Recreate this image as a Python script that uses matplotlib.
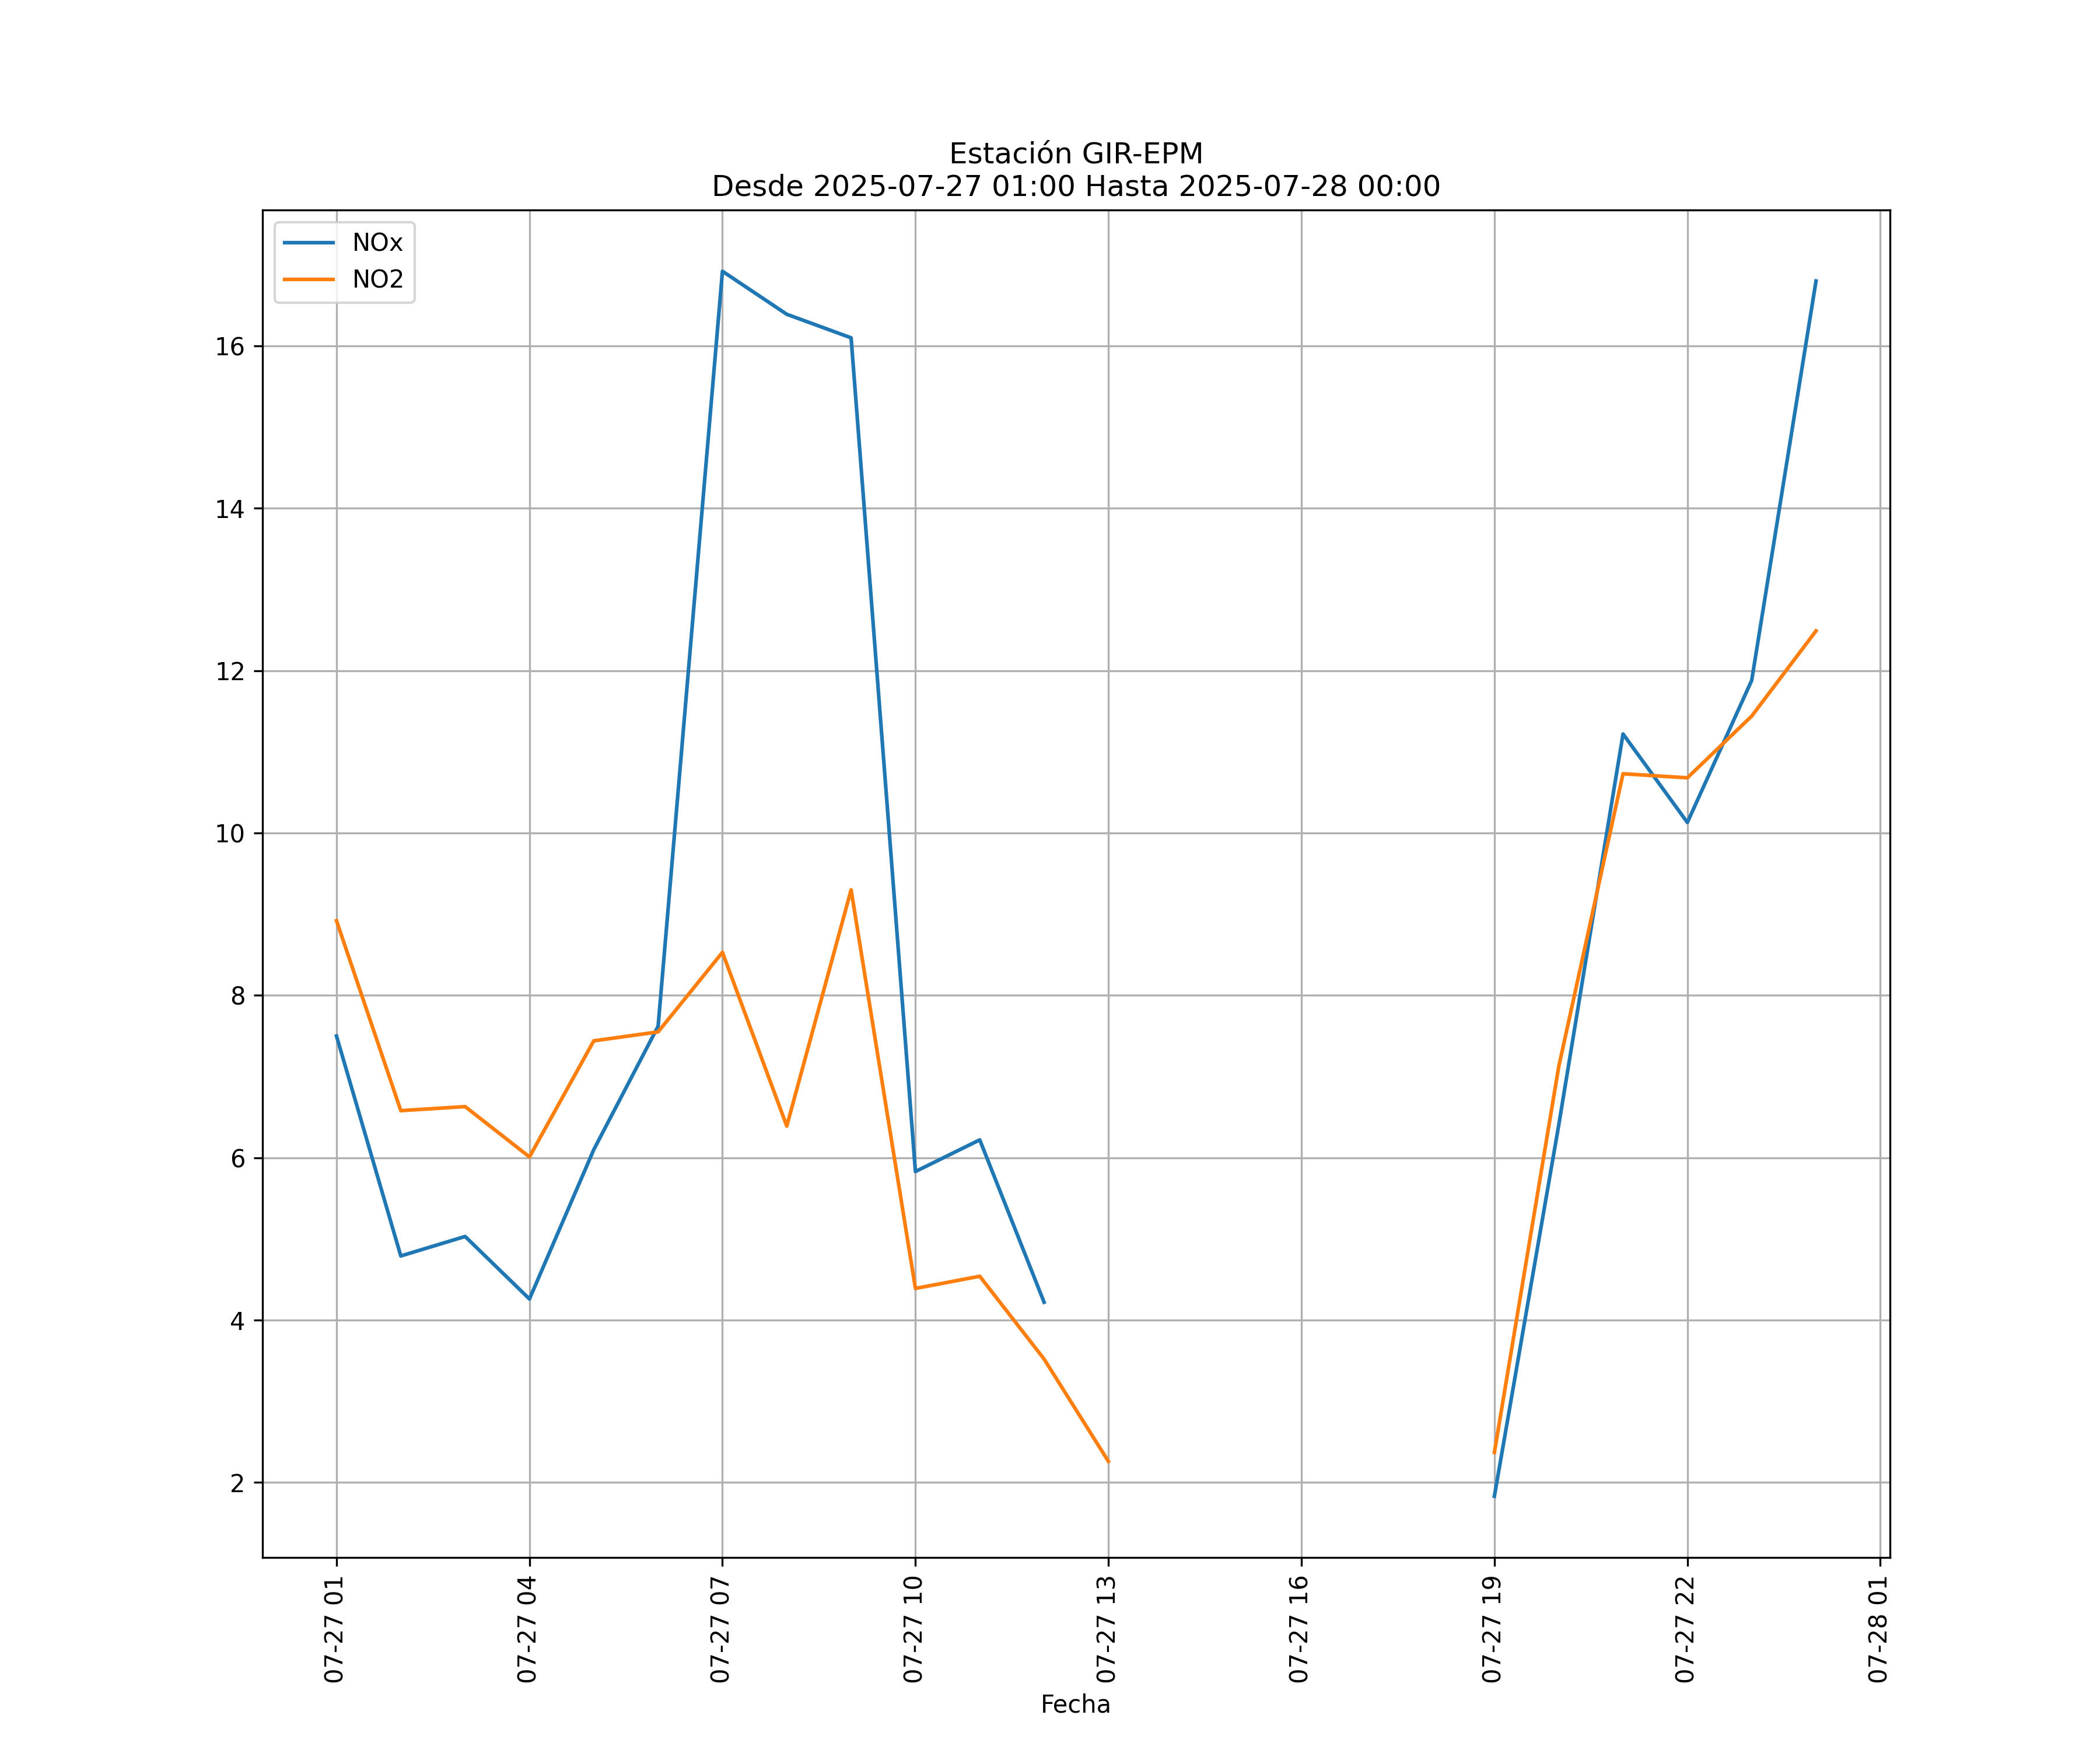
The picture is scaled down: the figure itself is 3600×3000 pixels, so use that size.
import numpy as np
import pandas as pd
import matplotlib
matplotlib.use('Agg')
from matplotlib import pyplot as plt
import matplotlib.dates as mdates

# hourly readings, 2025-07-27 01:00 .. 2025-07-28 00:00 (nan = no data)
fechas = pd.date_range('2025-07-27 01:00', '2025-07-28 00:00', freq='h')
nox = [7.50, 4.79, 5.03, 4.26, 6.10, 7.62, 16.92, 16.39, 16.10, 5.83, 6.22, 4.22,
       np.nan, np.nan, np.nan, np.nan, np.nan, np.nan,
       1.83, 6.40, 11.22, 10.13, 11.88, 16.80]
no2 = [8.92, 6.58, 6.63, 6.01, 7.44, 7.55, 8.53, 6.39, 9.30, 4.39, 4.54, 3.52,
       2.26, np.nan, np.nan, np.nan, np.nan, np.nan,
       2.37, 7.12, 10.73, 10.68, 11.44, 12.49]

fig = plt.figure(figsize=(12, 10))
ax = fig.add_subplot(111)
ax.plot(fechas, nox, label='NOx')
ax.plot(fechas, no2, label='NO2')
ax.xaxis.set_major_locator(mdates.HourLocator(byhour=range(1, 24, 3)))
ax.xaxis.set_major_formatter(mdates.DateFormatter('%m-%d %H'))
plt.xticks(rotation=90)
ax.set_xlabel('Fecha')
ax.set_title('Estación GIR-EPM\nDesde 2025-07-27 01:00 Hasta 2025-07-28 00:00')
ax.grid(True)
ax.legend(loc='upper left')
plt.savefig('out.png', dpi=300)
